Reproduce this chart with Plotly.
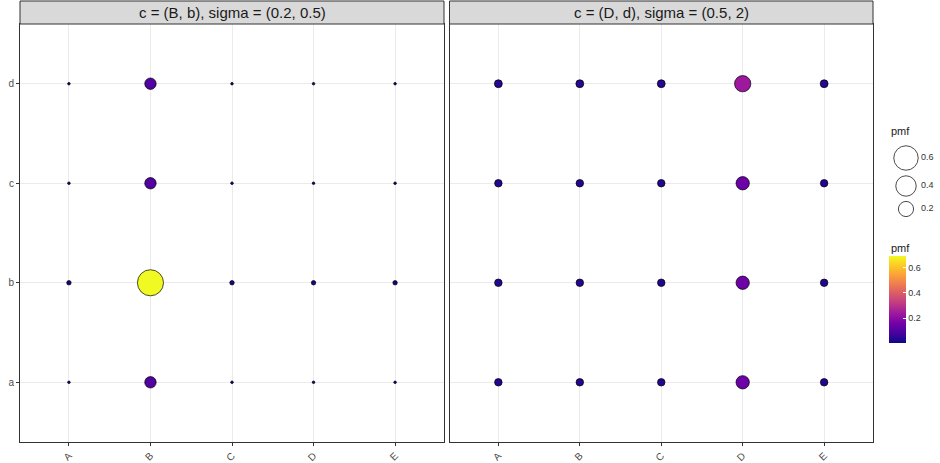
import numpy as np
import plotly.graph_objects as go

# ---------------- data ----------------
x_cats = ["A", "B", "C", "D", "E"]
y_cats = ["a", "b", "c", "d"]
panel_titles = ["c = (B, b), sigma = (0.2, 0.5)", "c = (D, d), sigma = (0.5, 2)"]

# pmf values: rows follow y_cats (a, b, c, d), columns follow x_cats (A..E)
pmf_panel1 = [
    [0.0007, 0.098, 0.0007, 0.0007, 0.0007],   # a
    [0.005,  0.695, 0.005,  0.005,  0.005],    # b
    [0.0007, 0.098, 0.0007, 0.0007, 0.0007],   # c
    [0.0007, 0.098, 0.0007, 0.0007, 0.0007],   # d
]
pmf_panel2 = [
    [0.031, 0.031, 0.031, 0.145, 0.031],       # a
    [0.031, 0.031, 0.031, 0.145, 0.031],       # b
    [0.031, 0.031, 0.031, 0.145, 0.031],       # c
    [0.036, 0.036, 0.036, 0.235, 0.036],       # d
]
size_legend_values = [0.6, 0.4, 0.2]
size_legend_labels = ["0.6", "0.4", "0.2"]
colorbar_ticks = [0.2, 0.4, 0.6]
colorbar_ticklabels = ["0.2", "0.4", "0.6"]

# ---------------- scales ----------------
all_vals = np.array(pmf_panel1 + pmf_panel2, dtype=float)
vmin, vmax = all_vals.min(), all_vals.max()
D_MIN, D_SPAN = 3.2, 23.5


def diam(v):
    v = np.asarray(v, dtype=float)
    return D_MIN + D_SPAN * np.sqrt(np.clip((v - vmin) / (vmax - vmin), 0, 1))


W, H = 940, 463
ML, MR, MT, MB = 20, 0, 1, 21
PW, PH = W - ML - MR, H - MT - MB


def px_x(p):
    return (p - ML) / PW


def px_y(p):
    return (H - MB - p) / PH


fig = go.Figure()

panels = [pmf_panel1, pmf_panel2]
for i, grid in enumerate(panels):
    xs, ys, vs = [], [], []
    for r, yc in enumerate(y_cats):
        for c, xc in enumerate(x_cats):
            xs.append(xc)
            ys.append(yc)
            vs.append(grid[r][c])
    order = np.argsort(vs)
    xs = [xs[k] for k in order]
    ys = [ys[k] for k in order]
    vs = [vs[k] for k in order]
    fig.add_trace(go.Scatter(
        x=xs, y=ys, mode="markers",
        xaxis="x" if i == 0 else "x2", yaxis="y" if i == 0 else "y2",
        marker=dict(size=diam(vs) - 0.6, color=vs, coloraxis="coloraxis",
                    line=dict(color="black", width=0.7), opacity=1),
        showlegend=False, hoverinfo="skip",
    ))

# size legend (own small axes)
key_y = [158, 186, 209]
key_x = [906] * 3
fig.add_trace(go.Scatter(
    x=key_x, y=key_y, mode="markers", xaxis="x3", yaxis="y3",
    marker=dict(size=diam(size_legend_values) - 0.6, color="white",
                line=dict(color="black", width=1.0)),
    showlegend=False, hoverinfo="skip", cliponaxis=False,
))
fig.add_trace(go.Scatter(
    x=[921] * 3, y=key_y, mode="text", xaxis="x3", yaxis="y3",
    text=size_legend_labels, textposition="middle right",
    textfont=dict(family="Liberation Sans, Arial", size=9, color="#333333"),
    showlegend=False, hoverinfo="skip", cliponaxis=False,
))

axis_common = dict(
    showgrid=True, gridcolor="#ebebeb", gridwidth=1,
    showline=True, mirror=True, linecolor="#333333", linewidth=1,
    ticks="outside", ticklen=3, tickcolor="#333333", tickwidth=1,
    tickfont=dict(family="Liberation Sans, Arial", size=10, color="#4d4d4d"),
    zeroline=False, automargin=False, fixedrange=True,
)

x_dom1 = [px_x(20), px_x(444)]
x_dom2 = [px_x(449.5), px_x(873)]
y_dom = [0, px_y(24)]

xaxis_cfg = dict(axis_common, type="category", categoryorder="array",
                 categoryarray=x_cats, range=[-0.6, 4.6], tickangle=-45)
yaxis_cfg = dict(axis_common, type="category", categoryorder="array",
                 categoryarray=y_cats, range=[-0.6, 3.6])

fig.update_layout(
    width=W, height=H,
    margin=dict(l=ML, r=MR, t=MT, b=MB, pad=0),
    paper_bgcolor="white", plot_bgcolor="white",
    font=dict(family="Liberation Sans, Arial", color="#1a1a1a"),
    xaxis=dict(xaxis_cfg, domain=x_dom1, anchor="y"),
    yaxis=dict(yaxis_cfg, domain=y_dom, anchor="x"),
    xaxis2=dict(xaxis_cfg, domain=x_dom2, anchor="y2"),
    yaxis2=dict(yaxis_cfg, domain=y_dom, anchor="x2", showticklabels=False,
                ticks=""),
    xaxis3=dict(domain=[px_x(890), 1.0], range=[890, 940], visible=False,
                anchor="y3", fixedrange=True),
    yaxis3=dict(domain=[px_y(220), px_y(140)], range=[220, 140], visible=False,
                anchor="x3", fixedrange=True),
    coloraxis=dict(
        colorscale="Plasma", cmin=vmin, cmax=vmax,
        colorbar=dict(
            x=px_x(889), xanchor="left", xref="paper",
            y=px_y(343), yanchor="bottom", yref="paper",
            len=87, lenmode="pixels", thickness=17, thicknessmode="pixels",
            outlinewidth=0, xpad=0, ypad=0,
            tickvals=colorbar_ticks, ticktext=colorbar_ticklabels,
            ticks="inside", ticklen=3, tickcolor="white", tickwidth=1,
            tickfont=dict(family="Liberation Sans, Arial", size=9, color="#333333"),
            title=dict(text=""),
        ),
    ),
    showlegend=False,
)

# facet strips
shapes = []
annotations = []
for dom, title in zip([x_dom1, x_dom2], panel_titles):
    shapes.append(dict(type="rect", xref="paper", yref="paper",
                       x0=dom[0], x1=dom[1], y0=px_y(24), y1=px_y(1),
                       fillcolor="#d9d9d9", line=dict(color="#333333", width=1),
                       layer="above"))
    annotations.append(dict(xref="paper", yref="paper",
                            x=(dom[0] + dom[1]) / 2, y=(px_y(24) + px_y(1)) / 2,
                            text=title, showarrow=False, xanchor="center",
                            yanchor="middle",
                            font=dict(family="Liberation Sans, Arial", size=15,
                                      color="#1a1a1a")))

for ty in [131, 248]:
    annotations.append(dict(xref="paper", yref="paper", x=px_x(889), y=px_y(ty),
                            text="pmf", showarrow=False, xanchor="left",
                            yanchor="middle",
                            font=dict(family="Liberation Sans, Arial", size=11,
                                      color="#1a1a1a")))

fig.update_layout(shapes=shapes, annotations=annotations)

fig.write_html(
    "out.html",
    config={"displayModeBar": False},
    post_script="document.body.style.margin='0';document.body.style.overflow='hidden';",
)
